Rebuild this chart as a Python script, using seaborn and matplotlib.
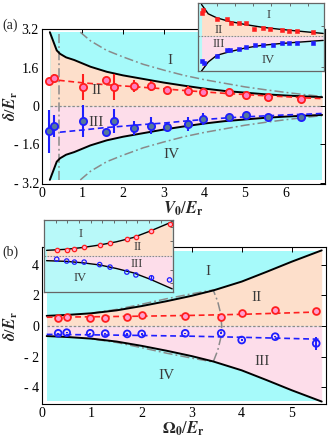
import numpy as np
import pandas as pd
import matplotlib
matplotlib.use("Agg")
import matplotlib.pyplot as plt
import seaborn as sns

sns.set_theme(style="white")
plt.rcParams["font.family"] = ["Liberation Serif", "DejaVu Serif"]
plt.rcParams["mathtext.fontset"] = "stix"

# ---------------- data: panel (a) ----------------
a_V0 = [0.19, 0.30, 1.01, 1.57, 1.79, 2.28, 2.69, 3.09, 3.59, 3.98, 4.62, 5.02, 5.58, 6.39]
a_red = [1.05, 1.18, 0.80, 1.10, 0.80, 0.82, 0.83, 0.67, 0.64, 0.57, 0.60, 0.44, 0.38, 0.31]
a_red_err = [0.10, 0.15, 0.55, 0.12, 0.53, 0.25, 0.20, 0.10, 0.20, 0.20, 0.12, 0.10, 0.05, 0.03]
a_blue = [-1.06, -0.84, -0.62, -1.07, -0.62, -0.92, -0.82, -0.86, -0.75, -0.55, -0.44, -0.38, -0.47, -0.47]
a_blue_err = [0.90, 0.45, 0.65, 0.10, 0.50, 0.30, 0.35, 0.20, 0.30, 0.25, 0.12, 0.15, 0.05, 0.03]

a_bound_x = [0.2, 0.37, 0.45, 0.6, 0.8, 1.0, 1.2, 1.6, 2.0, 2.4, 3.0, 3.5, 4.0, 4.5, 5.0, 5.5, 6.0, 6.5, 6.9]
a_bound_y = [3.08, 2.32, 2.18, 2.03, 1.92, 1.78, 1.64, 1.43, 1.28, 1.16, 0.98, 0.85, 0.73, 0.63, 0.56, 0.49, 0.44, 0.40, 0.37]
a_gray_x = [0.95, 1.2, 1.6, 2.0, 2.5, 3.0, 3.5, 4.0, 4.5, 5.0, 5.5, 6.0, 6.5, 6.9]
a_gray_y = [3.08, 2.72, 2.32, 2.05, 1.74, 1.50, 1.28, 1.10, 0.95, 0.80, 0.68, 0.57, 0.47, 0.40]
a_vline_x = [0.42, 0.42]
a_vline_y = [-3.08, 3.08]
a_fit_red_x = [0.19, 0.5, 1.0, 1.5, 2.0, 2.5, 3.0, 3.5, 4.0, 4.5, 5.0, 5.5, 6.0, 6.5, 6.9]
a_fit_red_y = [1.12, 1.06, 0.97, 0.90, 0.84, 0.78, 0.72, 0.65, 0.59, 0.53, 0.48, 0.43, 0.39, 0.34, 0.31]
a_fit_blue_x = [0.45, 1.0, 1.5, 2.0, 2.5, 3.0, 3.5, 4.0, 4.5, 5.0, 5.5, 6.0, 6.5, 6.9]
a_fit_blue_y = [-1.09, -1.00, -0.91, -0.84, -0.77, -0.71, -0.63, -0.56, -0.50, -0.45, -0.41, -0.37, -0.34, -0.31]

# ---------------- data: panel (b) ----------------
b_O = [0.33, 0.50, 0.97, 1.27, 1.71, 2.00, 2.87, 3.59, 4.00, 4.67, 5.49]
b_red = [0.50, 0.61, 0.55, 0.55, 0.61, 0.70, 0.68, 0.61, 0.83, 1.02, 1.00]
b_red_err = [0.06, 0.06, 0.05, 0.05, 0.05, 0.05, 0.05, 0.06, 0.05, 0.06, 0.15]
b_blue = [-0.48, -0.44, -0.48, -0.50, -0.52, -0.52, -0.48, -0.48, -0.92, -0.70, -1.14]
b_blue_err = [0.05, 0.05, 0.05, 0.05, 0.05, 0.05, 0.05, 0.06, 0.05, 0.05, 0.45]

b_bound_x = [0.1, 0.5, 1.0, 1.5, 2.0, 2.5, 3.0, 3.43, 4.0, 4.5, 5.0, 5.6]
b_bound_y = [0.66, 0.72, 0.83, 1.02, 1.30, 1.62, 1.97, 2.32, 2.90, 3.54, 4.20, 4.94]
b_gray_x = [1.0, 1.5, 2.0, 2.5, 3.0, 3.43, 3.52, 3.58, 3.60, 3.58, 3.52, 3.43, 3.0, 2.5, 2.0, 1.5, 1.0]
b_gray_y = [0.84, 1.08, 1.42, 1.78, 2.10, 2.35, 1.6, 0.8, 0.0, -0.8, -1.6, -2.35, -2.10, -1.78, -1.42, -1.08, -0.84]
b_fit_x = [0.1, 1.0, 2.0, 3.0, 4.0, 5.0, 5.6]
b_fit_red = [0.57, 0.60, 0.64, 0.69, 0.76, 0.86, 0.92]
b_fit_blue = [-0.55, -0.58, -0.62, -0.67, -0.74, -0.82, -0.87]

# ---------------- data: insets ----------------
ia_bx = [0.026, 0.079, 0.146, 0.238, 0.37, 0.50, 0.635, 0.767, 0.99]
ia_up = [0.95, 0.67, 0.55, 0.45, 0.35, 0.27, 0.21, 0.16, 0.08]
ia_lo = [-1.05, -0.78, -0.58, -0.48, -0.36, -0.28, -0.23, -0.19, -0.13]
ia_rx = [0.026, 0.04, 0.146, 0.23, 0.26, 0.325, 0.38, 0.44, 0.516, 0.57, 0.66, 0.72, 0.78, 0.91]
ia_ry = [0.69, 0.77, 0.50, 0.50, 0.40, 0.39, 0.39, 0.22, 0.24, 0.22, 0.19, 0.15, 0.14, 0.13]
ia_bxp = [0.026, 0.048, 0.146, 0.23, 0.25, 0.325, 0.38, 0.45, 0.516, 0.595, 0.667, 0.72, 0.78, 0.91]
ia_byp = [-0.75, -0.81, -0.61, -0.43, -0.41, -0.38, -0.33, -0.28, -0.26, -0.26, -0.20, -0.20, -0.20, -0.20]

ib_bx = [0.02, 0.175, 0.30, 0.43, 0.56, 0.69, 0.82, 0.99]
ib_up = [0.15, 0.18, 0.23, 0.30, 0.39, 0.51, 0.69, 0.95]
ib_lo = [-0.14, -0.16, -0.20, -0.26, -0.36, -0.48, -0.66, -0.93]
ib_rx = [0.098, 0.175, 0.235, 0.31, 0.43, 0.51, 0.64, 0.71, 0.83, 0.97]
ib_ry = [0.16, 0.16, 0.20, 0.23, 0.30, 0.36, 0.48, 0.53, 0.70, 0.89]
ib_byp = [-0.10, -0.15, -0.18, -0.18, -0.25, -0.32, -0.46, -0.54, -0.62, -0.68]
ib_berr = [0.0, 0.0, 0.0, 0.0, 0.0, 0.0, 0.0, 0.0, 0.07, 0.0]

a_xticks = [0, 1, 2, 3, 4, 5, 6]
a_yticks = [-3.2, -1.6, 0, 1.6, 3.2]
a_yticklabels = ["- 3.2", "- 1.6", "0", "1.6", "3.2"]
b_xticks = [0, 1, 2, 3, 4, 5]
b_yticks = [-4, -2, 0, 2, 4]
b_yticklabels = ["- 4", "- 2", "0", "2", "4"]

CYAN = "#A6FAFA"
PEACH = "#FDDFCB"
PINK = "#FDDDEA"
ICYAN = "#B8F9F9"
RED = "#FF1E1E"
BLUE = "#1E1EFF"
GRAY = "#8A8A8A"
LBL = "#3A3A3A"
DASHDOT = (0, (6, 2, 1.2, 2))
DASH = (0, (3.5, 2.2))

fig = plt.figure(figsize=(3.31, 4.37), dpi=100)
axA = fig.add_axes([0.126, 0.579, 0.857, 0.355])
axB = fig.add_axes([0.126, 0.0755, 0.858, 0.3586])
insA = fig.add_axes([0.599, 0.8375, 0.381, 0.156])
insB = fig.add_axes([0.133, 0.3325, 0.391, 0.164])


def style_main(ax, xt, yt, ytl, xlim, ylim):
    ax.set_xlim(*xlim)
    ax.set_ylim(*ylim)
    ax.set_xticks(xt)
    ax.set_xticklabels([str(v) for v in xt])
    ax.set_yticks(yt)
    ax.set_yticklabels(ytl)
    ax.tick_params(direction="in", length=3.5, width=0.7, top=True, right=True,
                   labelsize=10, pad=2, colors="black")
    for s in ax.spines.values():
        s.set_visible(True)
        s.set_color("black")
        s.set_linewidth(0.8)
    ax.set_facecolor("white")


def line(ax, x, y, **kw):
    sns.lineplot(x=x, y=y, ax=ax, sort=False, estimator=None, legend=False, **kw)


# ---------------- panel (a) ----------------
ax = axA
ax.fill_between([0.2, 6.9], -3.08, 3.08, color=CYAN, lw=0, zorder=0)
ax.fill_between(a_bound_x, 0, a_bound_y, color=PEACH, lw=0, zorder=0.5)
ax.fill_between(a_bound_x, [-v for v in a_bound_y], 0, color=PINK, lw=0, zorder=0.5)
ax.axhline(0, xmin=0.2 / 7.0, xmax=6.9 / 7.0, color=GRAY, lw=0.9, ls=(0, (2, 1.5)), zorder=1)
line(ax, a_bound_x, a_bound_y, color="black", lw=1.4, zorder=3)
line(ax, a_bound_x, [-v for v in a_bound_y], color="black", lw=1.4, zorder=3)
line(ax, a_gray_x, a_gray_y, color=GRAY, lw=1.1, linestyle=DASHDOT, zorder=2)
line(ax, a_gray_x, [-v for v in a_gray_y], color=GRAY, lw=1.1, linestyle=DASHDOT, zorder=2)
line(ax, a_vline_x, a_vline_y, color=GRAY, lw=1.1, linestyle=DASHDOT, zorder=2)
line(ax, a_fit_red_x, a_fit_red_y, color=RED, lw=1.2, linestyle=DASH, zorder=4)
line(ax, a_fit_blue_x, a_fit_blue_y, color=BLUE, lw=1.2, linestyle=DASH, zorder=4)
ax.errorbar(a_V0, a_red, yerr=a_red_err, fmt="none", ecolor=RED, elinewidth=1.5, capsize=0, zorder=5)
ax.errorbar(a_V0, a_blue, yerr=a_blue_err, fmt="none", ecolor=BLUE, elinewidth=1.5, capsize=0, zorder=5)
sns.scatterplot(x=a_V0, y=a_red, ax=ax, s=27, color="#FF7FC0", edgecolor=RED, linewidth=1.3, zorder=6, legend=False)
sns.scatterplot(x=a_V0, y=a_blue, ax=ax, s=27, color="#55789A", edgecolor=BLUE, linewidth=1.3, zorder=6, legend=False)
for t, (x, y) in zip(["I", "II", "III", "IV"], [(3.15, 1.9), (1.35, 0.66), (1.35, -0.68), (3.2, -2.0)]):
    ax.text(x, y, t, fontsize=11, color=LBL, ha="center", va="center", zorder=7)
style_main(ax, a_xticks, a_yticks, a_yticklabels, (0, 6.98), (-3.25, 3.22))
ax.set_xlabel(r"$\mathbfit{V}_{\mathbf{0}}/\mathbfit{E}_{\mathbf{r}}$", fontsize=12, labelpad=0)
ax.set_ylabel(r"$\mathbfit{\delta}/\mathbfit{E}_{\mathbf{r}}$", fontsize=11.5)
ax.yaxis.set_label_coords(-0.077, 0.5)

# ---------------- panel (b) ----------------
ax = axB
ax.fill_between([0.1, 5.6], -4.92, 4.92, color=CYAN, lw=0, zorder=0)
ax.fill_between(b_bound_x, 0, b_bound_y, color=PEACH, lw=0, zorder=0.5)
ax.fill_between(b_bound_x, [-v for v in b_bound_y], 0, color=PINK, lw=0, zorder=0.5)
ax.axhline(0, xmin=0.1 / 5.68, xmax=5.6 / 5.68, color=GRAY, lw=0.9, ls=(0, (2, 1.5)), zorder=1)
line(ax, b_bound_x, b_bound_y, color="black", lw=1.4, zorder=3)
line(ax, b_bound_x, [-v for v in b_bound_y], color="black", lw=1.4, zorder=3)
line(ax, b_gray_x, b_gray_y, color=GRAY, lw=1.1, linestyle=DASHDOT, zorder=2)
line(ax, b_fit_x, b_fit_red, color=RED, lw=1.2, linestyle=DASH, zorder=4)
line(ax, b_fit_x, b_fit_blue, color=BLUE, lw=1.2, linestyle=DASH, zorder=4)
ax.errorbar(b_O, b_red, yerr=b_red_err, fmt="none", ecolor=RED, elinewidth=1.4, capsize=0, zorder=5)
ax.errorbar(b_O, b_blue, yerr=b_blue_err, fmt="none", ecolor=BLUE, elinewidth=1.4, capsize=0, zorder=5)
sns.scatterplot(x=b_O, y=b_red, ax=ax, s=24, color="#FF9FCF", edgecolor=RED, linewidth=1.3, zorder=6, legend=False)
sns.scatterplot(x=b_O, y=b_blue, ax=ax, s=24, color="none", edgecolor=BLUE, linewidth=1.3, zorder=6, legend=False)
for t, (x, y) in zip(["I", "II", "III", "IV"], [(3.33, 3.56), (4.3, 1.88), (4.4, -2.34), (2.5, -3.26)]):
    ax.text(x, y, t, fontsize=11, color=LBL, ha="center", va="center", zorder=7)
style_main(ax, b_xticks, b_yticks, b_yticklabels, (0, 5.68), (-5.1, 5.14))
ax.set_xlabel(r"$\mathbf{\Omega}_{\mathbf{0}}/\mathbfit{E}_{\mathbf{r}}$", fontsize=12, labelpad=0)
ax.set_ylabel(r"$\mathbfit{\delta}/\mathbfit{E}_{\mathbf{r}}$", fontsize=11.5)
ax.yaxis.set_label_coords(-0.077, 0.5)


# ---------------- insets ----------------
def style_inset(ax, ylim, xt, yt):
    ax.set_xlim(0, 1)
    ax.set_ylim(*ylim)
    ax.set_xticks(xt)
    ax.set_yticks(yt)
    ax.set_xticklabels([])
    ax.set_yticklabels([])
    ax.tick_params(direction="in", length=2.5, width=0.6, top=True, right=True, colors="#555555")
    for s in ax.spines.values():
        s.set_visible(True)
        s.set_color("#666666")
        s.set_linewidth(0.9)
    ax.set_xlabel("")
    ax.set_ylabel("")


ax = insA
ax.set_facecolor(ICYAN)
ax.fill_between(ia_bx, 0, ia_up, color=PEACH, lw=0, zorder=0.5)
ax.fill_between(ia_bx, ia_lo, 0, color=PINK, lw=0, zorder=0.5)
ax.axhline(0, color=GRAY, lw=0.8, ls=(0, (1.5, 1.2)), zorder=1)
line(ax, ia_bx, ia_up, color="black", lw=1.0, zorder=3)
line(ax, ia_bx, ia_lo, color="black", lw=1.0, zorder=3)
sns.scatterplot(x=ia_rx, y=ia_ry, ax=ax, s=6, color=RED, edgecolor=RED, linewidth=0.4, marker="s", zorder=5, legend=False)
sns.scatterplot(x=ia_bxp, y=ia_byp, ax=ax, s=6, color=BLUE, edgecolor=BLUE, linewidth=0.4, marker="s", zorder=5, legend=False)
for t, (x, y) in zip(["I", "II", "III", "IV"], [(0.56, 0.62), (0.16, 0.19), (0.16, -0.23), (0.555, -0.71)]):
    ax.text(x, y, t, fontsize=9, color=LBL, ha="center", va="center", zorder=7)
style_inset(ax, (-1.05, 1.0), [0.146, 0.29, 0.437, 0.58, 0.73, 0.87], [-0.93, 0.29])
ax.set_zorder(10)

ax = insB
ax.set_facecolor(ICYAN)
ax.fill_between(ib_bx, 0, ib_up, color=PEACH, lw=0, zorder=0.5)
ax.fill_between(ib_bx, ib_lo, 0, color=PINK, lw=0, zorder=0.5)
ax.axhline(0, color=GRAY, lw=0.8, ls=(0, (1.5, 1.2)), zorder=1)
line(ax, ib_bx, ib_up, color="black", lw=1.0, zorder=3)
line(ax, ib_bx, ib_lo, color="black", lw=1.0, zorder=3)
ax.errorbar(ib_rx, ib_byp, yerr=ib_berr, fmt="none", ecolor=BLUE, elinewidth=0.9, capsize=0, zorder=4)
sns.scatterplot(x=ib_rx, y=ib_ry, ax=ax, s=10, color="#FFB0D0", edgecolor=RED, linewidth=0.9, zorder=5, legend=False)
sns.scatterplot(x=ib_rx, y=ib_byp, ax=ax, s=10, color="none", edgecolor=BLUE, linewidth=0.9, zorder=5, legend=False)
for t, (x, y) in zip(["I", "II", "III", "IV"], [(0.28, 0.61), (0.72, 0.25), (0.72, -0.24), (0.28, -0.62)]):
    ax.text(x, y, t, fontsize=9, color=LBL, ha="center", va="center", zorder=7)
style_inset(ax, (-1.01, 1.0), [0.09, 0.18, 0.27, 0.36, 0.45, 0.54, 0.63, 0.72, 0.81, 0.90], [-0.78, -0.40, 0.42, 0.81])
ax.set_zorder(10)

fig.text(0.006, 1 - 25 / 437, "(a)", fontsize=10, ha="left", va="center")
fig.text(0.006, 1 - 252 / 437, "(b)", fontsize=10, ha="left", va="center")

fig.savefig("out.png", dpi=100)
